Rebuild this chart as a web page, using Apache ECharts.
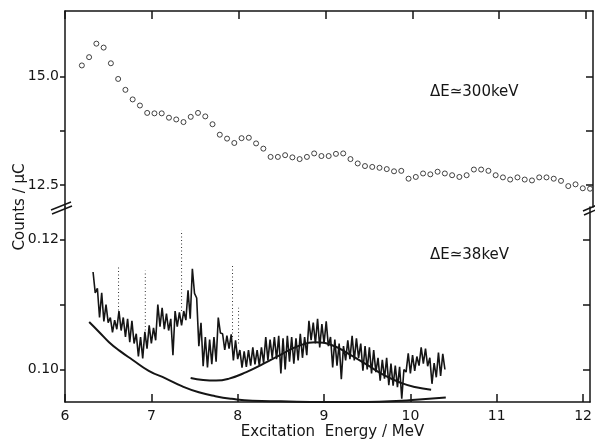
<!DOCTYPE html>
<html>
<head>
<meta charset="utf-8">
<script src="https://cdn.jsdelivr.net/npm/echarts@6/dist/echarts.min.js"></script>
<style>
  html, body { margin: 0; padding: 0; background: #fff; }
  #chart { width: 595px; height: 442px; }
</style>
</head>
<body>
<div id="chart"></div>
<script>
// axis ticks / labels
const energyTicks = [6, 7, 8, 9, 10, 11, 12]
const upperTicks = [12.5, 13.75, 15.0]
const upperLabels = [12.5, 15.0]
const lowerTicks = [0.10, 0.11, 0.12]
const lowerLabels = [0.10, 0.12]

// ΔE ≈ 300 keV run: open circles, evenly spaced in energy
const coarseStart = 6.194
const coarseStep = 0.0836
const coarseCounts = [
  15.25, 15.44, 15.75, 15.66, 15.30, 14.94, 14.69, 14.47, 14.33, 14.16,
  14.15, 14.15, 14.05, 14.01, 13.95, 14.07, 14.16, 14.08, 13.90, 13.66,
  13.57, 13.47, 13.58, 13.59, 13.46, 13.34, 13.15, 13.15, 13.19, 13.14,
  13.10, 13.15, 13.23, 13.17, 13.17, 13.22, 13.23, 13.10, 13.00, 12.94,
  12.92, 12.90, 12.87, 12.82, 12.83, 12.65, 12.69, 12.77, 12.75, 12.81,
  12.77, 12.73, 12.69, 12.73, 12.86, 12.86, 12.83, 12.73, 12.68, 12.63,
  12.68, 12.63, 12.61, 12.68, 12.68, 12.65, 12.60, 12.48, 12.52, 12.43,
  12.42
]

const fineStart = 6.325
const fineStep = 0.025
const fineCounts = [
  0.1150, 0.1118, 0.1125, 0.1080, 0.1118, 0.1074, 0.1100, 0.1072,
  0.1080, 0.1057, 0.1076, 0.1062, 0.1090, 0.1060, 0.1080, 0.1050,
  0.1078, 0.1042, 0.1075, 0.1040, 0.1055, 0.1020, 0.1050, 0.1017,
  0.1058, 0.1032, 0.1068, 0.1040, 0.1064, 0.1045, 0.1100, 0.1066,
  0.1095, 0.1062, 0.1086, 0.1060, 0.1078, 0.1022, 0.1090, 0.1066,
  0.1088, 0.1068, 0.1090, 0.1076, 0.1122, 0.1078, 0.1155, 0.1117,
  0.1110, 0.1036, 0.1072, 0.1005, 0.1050, 0.1003, 0.1046, 0.1008,
  0.1050, 0.1012, 0.1080, 0.1056, 0.1055, 0.1030, 0.1052, 0.1032,
  0.1054, 0.1014, 0.1045, 0.1016, 0.1030, 0.1003, 0.1028, 0.1004,
  0.1030, 0.1006, 0.1034, 0.1008, 0.1030, 0.1006, 0.1034, 0.1010,
  0.1050, 0.1014, 0.1046, 0.1018, 0.1050, 0.1016, 0.1052, 0.0994,
  0.1048, 0.1000, 0.1052, 0.1012, 0.1050, 0.1009, 0.1048, 0.1014,
  0.1055, 0.1018, 0.1050, 0.1022, 0.1075, 0.1045, 0.1072, 0.1040,
  0.1078, 0.1034, 0.1070, 0.1040, 0.1074, 0.1036, 0.1050, 0.1003,
  0.1046, 0.1006, 0.1040, 0.0985, 0.1036, 0.1014, 0.1045, 0.1016,
  0.1052, 0.1014, 0.1048, 0.1018, 0.1040, 0.0998, 0.1036, 0.1000,
  0.1034, 0.0994, 0.1030, 0.0996, 0.1018, 0.0983, 0.1015, 0.0986,
  0.1018, 0.0976, 0.1009, 0.0975, 0.1006, 0.0973, 0.1004, 0.0955,
  0.1000, 0.0996, 0.1025, 0.0994, 0.1022, 0.0998, 0.1020, 0.1006,
  0.1034, 0.1009, 0.1032, 0.1005, 0.1018, 0.0978, 0.1010, 0.0988,
  0.1026, 0.0990, 0.1024, 0.1000
]

// sparse dotted spikes above the spectrum
const spikeEnergy = [6.62, 6.93, 7.35, 7.94, 8.01]
const spikeLow = [0.1080, 0.1060, 0.1090, 0.1050, 0.1040]
const spikeHigh = [0.1157, 0.1152, 0.1214, 0.1163, 0.1095]

// smooth curves under the spectrum
const bgEnergy = [6.28, 6.40, 6.51, 6.63, 6.78, 6.97, 7.17, 7.36, 7.55, 7.74, 7.93, 8.17, 8.50, 9.00, 9.50, 9.90, 10.10, 10.41]
const bgCounts = [0.1073, 0.1057, 0.1042, 0.1029, 0.1015, 0.0998, 0.0986, 0.0974, 0.0965, 0.0959, 0.0955, 0.0952, 0.0951, 0.0950, 0.0950, 0.0952, 0.0954, 0.0957]
const fitEnergy = [7.455, 7.60, 7.75, 7.90, 8.10, 8.30, 8.50, 8.70, 8.90, 9.10, 9.30, 9.50, 9.70, 9.90, 10.05, 10.24]
const fitCounts = [0.0987, 0.0984, 0.0983, 0.0986, 0.0996, 0.1009, 0.1023, 0.1036, 0.1042, 0.1037, 0.1023, 0.1007, 0.0991, 0.0979, 0.0973, 0.0969]

const ink = '#151515'
const font = 'DejaVu Sans'

const chart = echarts.init(document.getElementById('chart'))

const xAxisFor = (gridIndex, position, showLabels) => ({
  type: 'value',
  gridIndex,
  position,
  min: 6,
  max: 12.08,
  axisLine: { show: true, onZero: false, lineStyle: { color: ink, width: 1.5 } },
  axisTick: { show: true, inside: true, length: 8, customValues: energyTicks, lineStyle: { color: ink, width: 1.5 } },
  axisLabel: {
    show: showLabels, customValues: energyTicks, margin: 7,
    color: ink, fontFamily: font, fontSize: 14
  },
  splitLine: { show: false }
})

const yAxisFor = (gridIndex, position, min, max, ticks, labels, digits) => ({
  type: 'value',
  gridIndex,
  position,
  min,
  max,
  axisLine: { show: true, onZero: false, lineStyle: { color: ink, width: 1.5 } },
  axisTick: {
    show: true, inside: position === 'right', length: position === 'right' ? 7 : 5,
    customValues: ticks, lineStyle: { color: ink, width: 1.5 }
  },
  axisLabel: {
    show: position === 'left', customValues: labels, margin: 6,
    color: ink, fontFamily: font, fontSize: 14,
    formatter: v => v.toFixed(digits)
  },
  splitLine: { show: false }
})

const lowerX = xAxisFor(1, 'bottom', true)
lowerX.name = 'Excitation  Energy / MeV'
lowerX.nameLocation = 'middle'
lowerX.nameGap = 23
lowerX.nameTextStyle = { color: ink, fontFamily: font, fontSize: 15, padding: [0, 0, 0, 10] }

const option = {
  backgroundColor: '#fff',
  animation: false,
  grid: [
    { left: 65, right: 2, top: 11, height: 196 },
    { left: 65, right: 2, top: 207, height: 195 }
  ],
  xAxis: [xAxisFor(0, 'top', false), lowerX],
  yAxis: [
    yAxisFor(0, 'left', 12, 16.5, upperTicks, upperLabels, 1),
    yAxisFor(0, 'right', 12, 16.5, upperTicks, [], 1),
    yAxisFor(1, 'left', 0.095, 0.125, lowerTicks, lowerLabels, 2),
    yAxisFor(1, 'right', 0.095, 0.125, lowerTicks, [], 2)
  ],
  graphic: [
    {
      type: 'text', x: 20, y: 207, rotation: Math.PI / 2,
      style: { text: 'Counts / μC', fill: ink, font: '15px "DejaVu Sans"', align: 'center', verticalAlign: 'middle' }
    },
    {
      type: 'text', x: 430, y: 92,
      style: { text: 'ΔE≃300keV', fill: ink, font: '15px "DejaVu Sans"', align: 'left', verticalAlign: 'middle' }
    },
    {
      type: 'text', x: 430, y: 255,
      style: { text: 'ΔE≃38keV', fill: ink, font: '15px "DejaVu Sans"', align: 'left', verticalAlign: 'middle' }
    },
    // axis break marks
    { type: 'line', shape: { x1: 51, y1: 210, x2: 71, y2: 202 }, style: { stroke: ink, lineWidth: 1.5 } },
    { type: 'line', shape: { x1: 52, y1: 214, x2: 72, y2: 206 }, style: { stroke: ink, lineWidth: 1.5 } },
    { type: 'line', shape: { x1: 583, y1: 211, x2: 597, y2: 205 }, style: { stroke: ink, lineWidth: 1.5 } },
    { type: 'line', shape: { x1: 584, y1: 215, x2: 598, y2: 209 }, style: { stroke: ink, lineWidth: 1.5 } }
  ],
  series: [
    {
      name: 'ΔE 300 keV',
      type: 'scatter',
      xAxisIndex: 0,
      yAxisIndex: 0,
      symbol: 'circle',
      symbolSize: 5,
      itemStyle: { color: '#fff', borderColor: ink, borderWidth: 1 },
      data: coarseCounts.map((v, i) => [coarseStart + i * coarseStep, v])
    },
    {
      name: 'ΔE 38 keV',
      type: 'line',
      xAxisIndex: 1,
      yAxisIndex: 2,
      showSymbol: false,
      lineStyle: { color: ink, width: 1.6 },
      data: fineCounts.map((v, i) => [fineStart + i * fineStep, v])
    },
    {
      name: 'spikes',
      type: 'custom',
      xAxisIndex: 1,
      yAxisIndex: 2,
      encode: { x: 0, y: [1, 2] },
      data: spikeEnergy.map((e, i) => [e, spikeLow[i], spikeHigh[i]]),
      renderItem: (params, api) => {
        const lo = api.coord([api.value(0), api.value(1)])
        const hi = api.coord([api.value(0), api.value(2)])
        return {
          type: 'line',
          shape: { x1: lo[0], y1: lo[1], x2: hi[0], y2: hi[1] },
          style: { stroke: '#333', lineWidth: 1, lineDash: [1, 2.5] }
        }
      }
    },
    {
      name: 'background',
      type: 'line',
      xAxisIndex: 1,
      yAxisIndex: 2,
      smooth: true,
      showSymbol: false,
      lineStyle: { color: ink, width: 2 },
      data: bgEnergy.map((e, i) => [e, bgCounts[i]])
    },
    {
      name: 'fit',
      type: 'line',
      xAxisIndex: 1,
      yAxisIndex: 2,
      smooth: true,
      showSymbol: false,
      lineStyle: { color: ink, width: 2 },
      data: fitEnergy.map((e, i) => [e, fitCounts[i]])
    }
  ]
}

chart.setOption(option)
</script>
</body>
</html>
